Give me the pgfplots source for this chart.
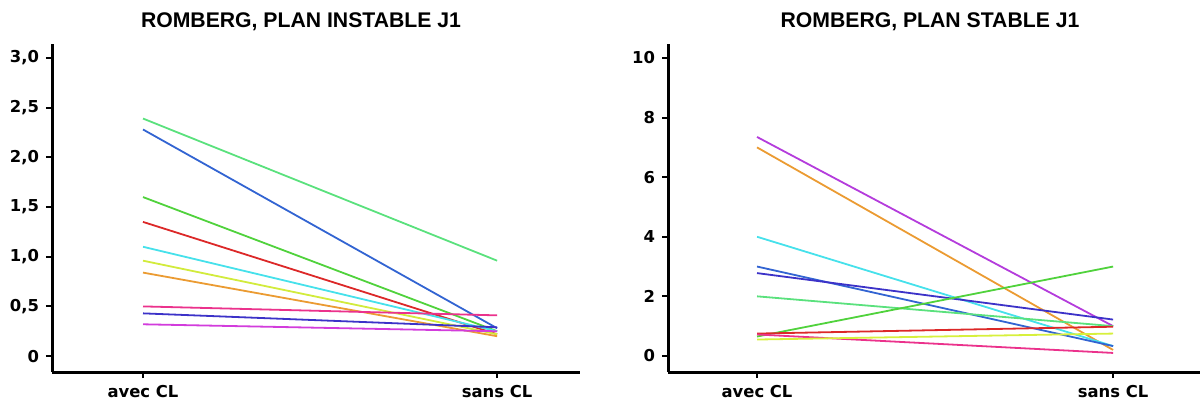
\documentclass[border=0pt]{standalone}
\usepackage{pgfplots}
\pgfplotsset{compat=1.18}
\usepackage{fontspec}
\newfontfamily\ticksfont{DejaVu Sans}
\newfontfamily\titlefont{Liberation Sans}
\definecolor{cSpring}{RGB}{90,225,125}
\definecolor{cBlue}{RGB}{50,100,210}
\definecolor{cGreen}{RGB}{80,210,60}
\definecolor{cRed}{RGB}{220,40,40}
\definecolor{cCyan}{RGB}{70,225,235}
\definecolor{cYellowGreen}{RGB}{210,235,60}
\definecolor{cYellow}{RGB}{215,240,60}
\definecolor{cOrange}{RGB}{235,155,50}
\definecolor{cPink}{RGB}{235,50,140}
\definecolor{cIndigo}{RGB}{60,50,200}
\definecolor{cMagenta}{RGB}{210,60,220}
\definecolor{cViolet}{RGB}{180,60,220}
\pgfplotsset{
  myaxis/.style={
    scale only axis,
    axis lines*=left,
    axis line style={line width=1.5pt,black},
    tick style={line width=1pt,black},
    major tick length=3pt,
    tick align=outside,
    tick pos=left,
    xtick={0,1},
    xticklabels={avec CL,sans CL},
    tick label style={font=\ticksfont\bfseries\fontsize{8.2}{9}\selectfont},
    /pgf/number format/assume math mode=true,
    height=164pt,
    every axis plot/.append style={line width=0.9pt},
    clip=false,
  }
}
\begin{document}
\begin{tikzpicture}
\path[use as bounding box] (0,0) rectangle (600pt,201.5pt);
\node[font=\titlefont\bfseries\fontsize{10.6}{12}\selectfont] at (150.5pt,190.5pt) {ROMBERG, PLAN INSTABLE J1};
\node[font=\titlefont\bfseries\fontsize{10.6}{12}\selectfont] at (465pt,190.5pt) {ROMBERG, PLAN STABLE J1};
\begin{axis}[myaxis,
  at={(26pt,15.5pt)}, anchor=south west,
  width=264pt,
  xmin=-0.257, xmax=1.234,
  ymin=-0.16, ymax=3.14,
  ytick={0,0.5,1,1.5,2,2.5,3},
  yticklabels={0,{0,5},{1,0},{1,5},{2,0},{2,5},{3,0}},
]
\addplot[cSpring] coordinates {(0,2.39) (1,0.96)};
\addplot[cBlue] coordinates {(0,2.28) (1,0.28)};
\addplot[cGreen] coordinates {(0,1.60) (1,0.25)};
\addplot[cRed] coordinates {(0,1.35) (1,0.22)};
\addplot[cCyan] coordinates {(0,1.10) (1,0.25)};
\addplot[cYellowGreen] coordinates {(0,0.96) (1,0.22)};
\addplot[cOrange] coordinates {(0,0.84) (1,0.20)};
\addplot[cPink] coordinates {(0,0.50) (1,0.41)};
\addplot[cIndigo] coordinates {(0,0.43) (1,0.29)};
\addplot[cMagenta] coordinates {(0,0.32) (1,0.25)};
\end{axis}
\begin{axis}[myaxis,
  at={(334pt,15.5pt)}, anchor=south west,
  width=266pt,
  xmin=-0.25, xmax=1.244,
  ymin=-0.54, ymax=10.47,
  ytick={0,2,4,6,8,10},
  yticklabels={0,2,4,6,8,10},
]
\addplot[cViolet] coordinates {(0,7.35) (1,1.0)};
\addplot[cOrange] coordinates {(0,7.0) (1,0.2)};
\addplot[cCyan] coordinates {(0,4.0) (1,0.33)};
\addplot[cBlue] coordinates {(0,3.0) (1,0.33)};
\addplot[cIndigo] coordinates {(0,2.78) (1,1.22)};
\addplot[cSpring] coordinates {(0,2.0) (1,1.0)};
\addplot[cGreen] coordinates {(0,0.65) (1,3.0)};
\addplot[cRed] coordinates {(0,0.75) (1,0.98)};
\addplot[cPink] coordinates {(0,0.72) (1,0.10)};
\addplot[cYellow] coordinates {(0,0.55) (1,0.75)};
\end{axis}
\end{tikzpicture}
\end{document}
